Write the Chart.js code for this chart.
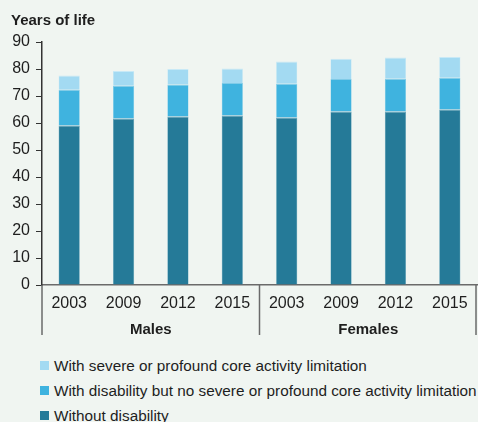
<!DOCTYPE html>
<html>
<head>
<meta charset="utf-8">
<script src="https://cdn.jsdelivr.net/npm/chart.js@4/dist/chart.umd.min.js"></script>
<style>
  html, body { margin: 0; padding: 0; background: #f0f5f1; }
  #wrap { position: relative; width: 478px; height: 422px; overflow: hidden; background: #f0f5f1; }
  #c { position: absolute; left: 0; top: 0; }
  #legend { position: absolute; left: 40px; top: 353px; font-family: 'Liberation Sans', Arial, sans-serif; font-size: 15.3px; color: #1e1e1e; }
  .li { height: 25px; line-height: 20px; white-space: nowrap; display: flex; align-items: center; }
  .sw { width: 9px; height: 9px; margin-right: 5px; display: inline-block; }
</style>
</head>
<body>
<div id="wrap">
  <canvas id="c" width="478" height="345"></canvas>
  <div id="legend"></div>
</div>
<script>
const categories = ['2003', '2009', '2012', '2015', '2003', '2009', '2012', '2015'];
const groups = ['Males', 'Females'];
const withoutDisability = [59.1, 61.7, 62.4, 62.8, 62.0, 64.3, 64.3, 65.0];
const disabilityNoSevere = [13.2, 12.1, 11.9, 12.0, 12.5, 12.0, 12.1, 11.8];
const severeProfound = [5.3, 5.5, 5.7, 5.4, 8.3, 7.5, 7.9, 7.6];
const yTicks = [0, 10, 20, 30, 40, 50, 60, 70, 80, 90];

const FONT = "'Liberation Sans', Arial, sans-serif";

const datasets = [
  { label: 'Without disability', data: withoutDisability, backgroundColor: '#257a98', borderColor: '#5a9fb8' },
  { label: 'With disability but no severe or profound core activity limitation', data: disabilityNoSevere, backgroundColor: '#3fb3df', borderColor: '#7fcbe8' },
  { label: 'With severe or profound core activity limitation', data: severeProfound, backgroundColor: '#a3daf2', borderColor: '#c8e9f6' }
];
datasets.forEach(d => { d.borderWidth = {top: 1, left: 0.5, right: 0.5, bottom: 0}; d.barPercentage = 0.39; d.categoryPercentage = 1.0; });

const groupPlugin = {
  id: 'groups',
  afterDraw(chart) {
    const ctx = chart.ctx;
    const xs = chart.scales.x;
    const area = chart.chartArea;
    const n = categories.length;
    const per = n / groups.length;
    const cw = xs.width / n;
    ctx.save();
    ctx.strokeStyle = '#6a6a6a';
    ctx.lineWidth = 1.5;
    for (let g = 0; g <= groups.length; g++) {
      let px = xs.left + g * per * cw;
      if (g === groups.length) px -= 1;
      ctx.beginPath();
      ctx.moveTo(px, area.bottom);
      ctx.lineTo(px, 335);
      ctx.stroke();
    }
    ctx.fillStyle = '#1e1e1e';
    ctx.font = 'bold 15px ' + FONT;
    ctx.textAlign = 'center';
    ctx.textBaseline = 'middle';
    groups.forEach((name, g) => {
      const cx = xs.left + (g * per + per / 2) * cw;
      ctx.fillText(name, cx, 330);
    });
    ctx.restore();
  }
};

new Chart(document.getElementById('c'), {
  type: 'bar',
  data: { labels: categories, datasets: datasets },
  options: {
    responsive: false,
    animation: false,
    layout: { padding: { left: 11, right: 1, top: 0, bottom: 0 } },
    plugins: {
      legend: { display: false },
      tooltip: { enabled: false },
      title: {
        display: true,
        text: 'Years of life',
        align: 'start',
        color: '#1e1e1e',
        font: { family: FONT, size: 15, weight: 'bold' },
        padding: { top: 11.5, bottom: 12.5 }
      }
    },
    scales: {
      x: {
        stacked: true,
        offset: true,
        grid: { display: false },
        border: { display: true, color: '#6a6a6a', width: 1.5 },
        ticks: { color: '#1e1e1e', font: { family: FONT, size: 16 }, padding: 1, maxRotation: 0, autoSkip: false },
        afterFit(s) { s.height = 60; }
      },
      y: {
        stacked: true,
        min: 0,
        max: 90,
        afterBuildTicks(s) { s.ticks = yTicks.map(v => ({ value: v })); },
        grid: { display: true, drawOnChartArea: false, drawTicks: true, tickLength: 6, color: '#333', lineWidth: 1 },
        border: { display: true, color: '#333', width: 1.5 },
        ticks: { color: '#1e1e1e', font: { family: FONT, size: 16 }, padding: 6 },
        afterFit(s) { s.width = 31; }
      }
    }
  },
  plugins: [groupPlugin]
});

// HTML legend in reverse stacking order
const legend = document.getElementById('legend');
datasets.slice().reverse().forEach(d => {
  const row = document.createElement('div');
  row.className = 'li';
  const sw = document.createElement('span');
  sw.className = 'sw';
  sw.style.background = d.backgroundColor;
  row.appendChild(sw);
  row.appendChild(document.createTextNode(d.label));
  legend.appendChild(row);
});
</script>
</body>
</html>
